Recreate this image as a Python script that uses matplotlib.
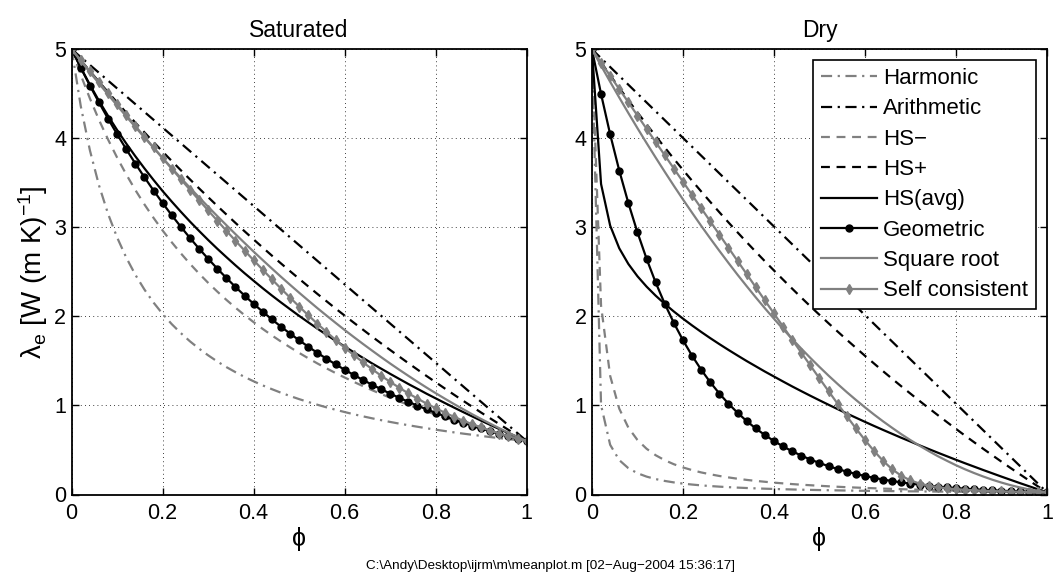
import numpy as np
import matplotlib
matplotlib.use("Agg")
import matplotlib.pyplot as plt

plt.rcParams['font.family'] = ['Liberation Sans', 'DejaVu Sans']
plt.rcParams['mathtext.fontset'] = 'custom'
plt.rcParams['mathtext.rm'] = 'Liberation Sans'
plt.rcParams['mathtext.it'] = 'Liberation Sans:italic'

# porosity grid (curves sampled every 0.02)
phi = np.linspace(0, 1, 51)
phi_ends = [0, 1]

# --- Saturated ---
sat_harmonic = [5.000, 4.360, 3.866, 3.472, 3.151, 2.885, 2.660, 2.467, 2.301, 2.155, 2.027, 1.913, 1.812,
                1.720, 1.638, 1.563, 1.494, 1.431, 1.374, 1.320, 1.271, 1.225, 1.183, 1.143, 1.106, 1.071,
                1.039, 1.008, 0.979, 0.952, 0.926, 0.901, 0.878, 0.856, 0.835, 0.815, 0.796, 0.778, 0.761,
                0.744, 0.728, 0.713, 0.698, 0.684, 0.671, 0.658, 0.645, 0.633, 0.622, 0.611, 0.600]
sat_arithmetic = [5.0, 0.6]
sat_hs_lo = [5.000, 4.711, 4.448, 4.207, 3.986, 3.782, 3.594, 3.419, 3.257, 3.106, 2.964, 2.832, 2.708,
             2.591, 2.481, 2.377, 2.279, 2.186, 2.098, 2.014, 1.935, 1.859, 1.787, 1.718, 1.653, 1.590,
             1.530, 1.472, 1.417, 1.364, 1.314, 1.265, 1.218, 1.172, 1.129, 1.087, 1.046, 1.007, 0.970,
             0.933, 0.898, 0.864, 0.831, 0.799, 0.768, 0.738, 0.708, 0.680, 0.653, 0.626, 0.600]
sat_hs_hi = [5.000, 4.877, 4.755, 4.635, 4.518, 4.402, 4.288, 4.176, 4.066, 3.957, 3.850, 3.745, 3.641,
             3.539, 3.438, 3.339, 3.241, 3.145, 3.050, 2.956, 2.864, 2.773, 2.683, 2.595, 2.508, 2.422,
             2.337, 2.253, 2.171, 2.089, 2.009, 1.930, 1.852, 1.774, 1.698, 1.623, 1.549, 1.475, 1.403,
             1.331, 1.261, 1.191, 1.122, 1.054, 0.987, 0.920, 0.855, 0.790, 0.726, 0.663, 0.600]
sat_hs_avg = [5.000, 4.794, 4.602, 4.421, 4.252, 4.092, 3.941, 3.798, 3.662, 3.532, 3.407, 3.289, 3.175,
              3.065, 2.960, 2.858, 2.760, 2.666, 2.574, 2.485, 2.400, 2.316, 2.235, 2.157, 2.081, 2.006,
              1.934, 1.863, 1.794, 1.727, 1.662, 1.598, 1.535, 1.473, 1.414, 1.355, 1.298, 1.241, 1.187,
              1.132, 1.080, 1.028, 0.977, 0.927, 0.878, 0.829, 0.782, 0.735, 0.690, 0.645, 0.600]
sat_geometric = [5.000, 4.792, 4.593, 4.403, 4.220, 4.045, 3.877, 3.716, 3.562, 3.414, 3.272, 3.136, 3.006,
                 2.881, 2.761, 2.647, 2.537, 2.432, 2.331, 2.234, 2.141, 2.052, 1.967, 1.885, 1.807, 1.732,
                 1.660, 1.591, 1.525, 1.462, 1.401, 1.343, 1.287, 1.234, 1.183, 1.133, 1.086, 1.041, 0.998,
                 0.957, 0.917, 0.879, 0.842, 0.807, 0.774, 0.742, 0.711, 0.681, 0.653, 0.626, 0.600]
sat_sqrt = [5.000, 4.870, 4.742, 4.616, 4.491, 4.368, 4.246, 4.127, 4.009, 3.893, 3.778, 3.665, 3.554,
            3.445, 3.337, 3.231, 3.127, 3.025, 2.924, 2.825, 2.727, 2.632, 2.538, 2.445, 2.355, 2.266,
            2.179, 2.093, 2.010, 1.928, 1.847, 1.769, 1.692, 1.617, 1.543, 1.471, 1.401, 1.333, 1.266,
            1.201, 1.138, 1.077, 1.017, 0.959, 0.902, 0.848, 0.795, 0.744, 0.694, 0.646, 0.600]
sat_self = [5.000, 4.876, 4.752, 4.628, 4.505, 4.382, 4.260, 4.138, 4.017, 3.897, 3.777, 3.658, 3.540,
            3.422, 3.306, 3.190, 3.076, 2.962, 2.850, 2.740, 2.630, 2.523, 2.417, 2.313, 2.211, 2.111,
            2.013, 1.918, 1.826, 1.736, 1.649, 1.566, 1.486, 1.409, 1.335, 1.265, 1.199, 1.136, 1.077,
            1.021, 0.969, 0.919, 0.873, 0.830, 0.790, 0.753, 0.718, 0.685, 0.655, 0.626, 0.600]

# --- Dry ---
dry_harmonic = [5.000, 1.004, 0.558, 0.3864, 0.2955, 0.2392, 0.2010, 0.1733, 0.1523, 0.1358, 0.1226,
                0.1117, 0.1025, 0.0948, 0.0882, 0.0824, 0.0773, 0.0728, 0.0688, 0.0653, 0.0620, 0.0591,
                0.0565, 0.0540, 0.0518, 0.0498, 0.0479, 0.0461, 0.0445, 0.0430, 0.0415, 0.0402, 0.0390,
                0.0378, 0.0367, 0.0356, 0.0347, 0.0337, 0.0328, 0.0320, 0.0312, 0.0305, 0.0297, 0.0291,
                0.0284, 0.0278, 0.0272, 0.0266, 0.0260, 0.0255, 0.0250]
dry_arithmetic = [5.0, 0.025]
dry_hs_lo = [5.000, 2.120, 1.332, 0.964, 0.751, 0.612, 0.514, 0.441, 0.385, 0.340, 0.304, 0.274, 0.248,
             0.227, 0.208, 0.192, 0.177, 0.164, 0.153, 0.143, 0.133, 0.125, 0.117, 0.110, 0.104, 0.098,
             0.092, 0.087, 0.082, 0.078, 0.074, 0.070, 0.066, 0.063, 0.060, 0.056, 0.054, 0.051, 0.048,
             0.046, 0.043, 0.041, 0.039, 0.037, 0.035, 0.033, 0.031, 0.030, 0.028, 0.027, 0.025]
dry_hs_hi = [5.000, 4.853, 4.708, 4.566, 4.427, 4.291, 4.157, 4.026, 3.897, 3.770, 3.646, 3.524, 3.404,
             3.286, 3.170, 3.056, 2.944, 2.834, 2.726, 2.620, 2.516, 2.413, 2.312, 2.212, 2.114, 2.018,
             1.923, 1.830, 1.738, 1.648, 1.558, 1.471, 1.384, 1.299, 1.215, 1.133, 1.051, 0.971, 0.892,
             0.814, 0.737, 0.661, 0.587, 0.513, 0.441, 0.369, 0.298, 0.229, 0.160, 0.092, 0.025]
dry_hs_avg = [5.000, 3.487, 3.020, 2.765, 2.589, 2.451, 2.335, 2.233, 2.141, 2.055, 1.975, 1.899, 1.826,
              1.756, 1.689, 1.624, 1.561, 1.499, 1.440, 1.381, 1.325, 1.269, 1.214, 1.161, 1.109, 1.058,
              1.008, 0.959, 0.910, 0.863, 0.816, 0.770, 0.725, 0.681, 0.637, 0.595, 0.552, 0.511, 0.470,
              0.430, 0.390, 0.351, 0.313, 0.275, 0.238, 0.201, 0.165, 0.129, 0.094, 0.059, 0.025]
dry_geometric = [5.000, 4.497, 4.045, 3.638, 3.273, 2.944, 2.648, 2.381, 2.142, 1.927, 1.733, 1.559, 1.402,
                 1.261, 1.134, 1.020, 0.918, 0.825, 0.742, 0.668, 0.601, 0.540, 0.486, 0.437, 0.393, 0.354,
                 0.318, 0.286, 0.257, 0.231, 0.208, 0.187, 0.168, 0.151, 0.136, 0.123, 0.110, 0.099, 0.089,
                 0.080, 0.072, 0.065, 0.058, 0.052, 0.047, 0.042, 0.038, 0.034, 0.031, 0.028, 0.025]
dry_sqrt = [5.000, 4.816, 4.635, 4.458, 4.284, 4.114, 3.947, 3.784, 3.624, 3.467, 3.314, 3.165, 3.018,
            2.876, 2.737, 2.601, 2.468, 2.340, 2.214, 2.092, 1.974, 1.859, 1.747, 1.639, 1.534, 1.433,
            1.335, 1.241, 1.150, 1.063, 0.979, 0.898, 0.821, 0.748, 0.677, 0.611, 0.548, 0.488, 0.431,
            0.379, 0.329, 0.283, 0.241, 0.202, 0.166, 0.134, 0.105, 0.080, 0.058, 0.040, 0.025]
dry_self = [5.000, 4.851, 4.702, 4.553, 4.405, 4.256, 4.107, 3.959, 3.810, 3.661, 3.513, 3.364, 3.216,
            3.068, 2.919, 2.771, 2.623, 2.476, 2.328, 2.180, 2.033, 1.886, 1.740, 1.594, 1.449, 1.304,
            1.161, 1.019, 0.880, 0.743, 0.612, 0.489, 0.377, 0.283, 0.210, 0.158, 0.123, 0.099, 0.082,
            0.069, 0.060, 0.053, 0.047, 0.042, 0.039, 0.035, 0.033, 0.030, 0.028, 0.027, 0.025]

xticks = [0, 0.2, 0.4, 0.6, 0.8, 1]
xticklabels = ['0', '0.2', '0.4', '0.6', '0.8', '1']
yticks = [0, 1, 2, 3, 4, 5]

GREY = '#808080'
LW = 1.6
DASH = (0, (4, 3))
DASHDOT = (0, (5, 2.5, 1, 2.5))


def panel(ax, title, harm, arith, hlo, hhi, havg, geo, sq, sc):
    ax.plot(phi, harm, color=GREY, lw=LW, ls=DASHDOT, label='Harmonic')
    ax.plot(phi_ends, arith, color='black', lw=LW, ls=DASHDOT, label='Arithmetic')
    ax.plot(phi, hlo, color=GREY, lw=LW, ls=DASH, label='HS\u2212')
    ax.plot(phi, hhi, color='black', lw=LW, ls=DASH, label='HS+')
    ax.plot(phi, havg, color='black', lw=LW, ls='-', label='HS(avg)')
    ax.plot(phi, geo, color='black', lw=LW, ls='-', marker='o', ms=5, label='Geometric')
    ax.plot(phi, sq, color=GREY, lw=LW, ls='-', label='Square root')
    ax.plot(phi, sc, color=GREY, lw=LW, ls='-', marker='d', ms=5, mec=GREY, mfc=GREY,
            label='Self consistent')
    ax.set_xlim(0, 1)
    ax.set_ylim(0, 5)
    ax.set_xticks(xticks)
    ax.set_xticklabels(xticklabels)
    ax.set_yticks(yticks)
    ax.grid(True, color='black', lw=0.6, ls=(0, (1, 4)))
    ax.tick_params(direction='in', top=True, right=True, length=5, width=1.0,
                   labelsize=15.5, pad=6)
    ax.tick_params(axis='y', pad=4)
    for s in ax.spines.values():
        s.set_linewidth(1.3)
    ax.set_title(title, fontsize=16.5, pad=9)
    ax.set_xlabel('\u03d5', fontsize=18, labelpad=2)


fig = plt.figure(figsize=(10.62, 5.75), dpi=100)
ax1 = fig.add_axes([0.0675, 0.140, 0.4284, 0.7743])
ax2 = fig.add_axes([0.5574, 0.140, 0.4284, 0.7743])

panel(ax1, 'Saturated', sat_harmonic, sat_arithmetic, sat_hs_lo, sat_hs_hi, sat_hs_avg,
      sat_geometric, sat_sqrt, sat_self)
panel(ax2, 'Dry', dry_harmonic, dry_arithmetic, dry_hs_lo, dry_hs_hi, dry_hs_avg,
      dry_geometric, dry_sqrt, dry_self)

ax1.set_ylabel('\u03bb$_\\mathrm{e}$ [W (m K)$^{\\mathrm{-1}}$]', fontsize=20, labelpad=3)

leg = ax2.legend(loc='upper right', fontsize=16, numpoints=1, handlelength=2.55,
                 handletextpad=0.25, labelspacing=0.42, borderpad=0.35, borderaxespad=0.5,
                 fancybox=False, framealpha=1, edgecolor='black')
leg.get_frame().set_linewidth(1.2)

fig.text(0.518, 0.016, 'C:\\Andy\\Desktop\\ijrm\\m\\meanplot.m [02\u2212Aug\u22122004 15:36:17]',
         ha='center', va='center', fontsize=9.7)

fig.savefig('out.png', dpi=100)
